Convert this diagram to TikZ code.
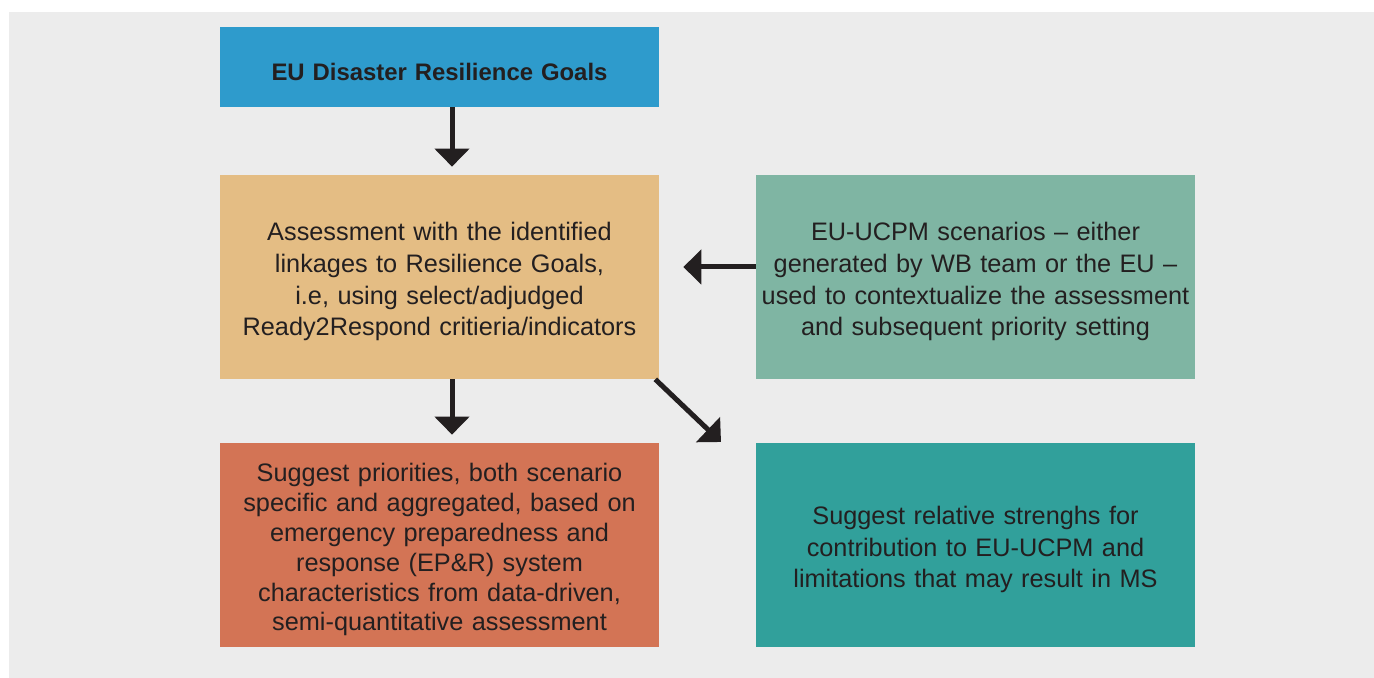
\documentclass[tikz,border=0pt]{standalone}
\usepackage{fontspec}
\setmainfont{Liberation Sans}
\usetikzlibrary{arrows.meta}
\definecolor{bggray}{HTML}{ECECEC}
\definecolor{goalblue}{HTML}{2E9BCC}
\definecolor{assesstan}{HTML}{E4BD84}
\definecolor{scensage}{HTML}{7FB5A3}
\definecolor{prioorange}{HTML}{D37455}
\definecolor{strengteal}{HTML}{31A09B}
\definecolor{inkdark}{HTML}{231F20}
\begin{document}
\begin{tikzpicture}[x=0.02cm, y=-0.02cm,
    font=\fontsize{14.4pt}{18pt}\selectfont,
    box/.style={minimum width=8.78cm, minimum height=4.08cm, inner sep=0pt,
      text width=8.6cm, align=center, text=inkdark,
      execute at begin node={\rule{0pt}{15.8pt}}},
    flow/.style={draw=inkdark, line width=0.1cm,
      -{Triangle[width=0.68cm, length=0.36cm]}, inkdark}]
    % Background
    \useasboundingbox (0,0) rectangle (1374,678);
    \fill[white] (0,0) rectangle (1374,678);
    \fill[bggray] (9,12) rectangle (1374,678);
    % Goals
    \node[box, fill=goalblue, minimum height=1.6cm, font=\fontsize{13.6pt}{18pt}\selectfont\bfseries,
      execute at begin node={}] (goals) at (439.5,67) {EU Disaster Resilience Goals};
    % Assessment
    \node[box, fill=assesstan] (assess) at (439.5,277) {Assessment with the identified\\
      linkages to Resilience Goals,\\ i.e, using select/adjudged\\ Ready2Respond critieria/indicators};
    % Scenarios
    \node[box, fill=scensage] (scen) at (975.5,277) {EU-UCPM scenarios -- either\\
      generated by WB team or the EU --\\ used to contextualize the assessment\\ and subsequent priority setting};
    % Priorities
    \node[box, fill=prioorange, font=\fontsize{14.4pt}{17pt}\selectfont] (prio) at (439.5,545) {Suggest priorities, both scenario\\
      specific and aggregated, based on\\ emergency preparedness and\\ response (EP\&R) system\\
      characteristics from data-driven,\\ semi-quantitative assessment};
    % Strengths
    \node[box, fill=strengteal] (streng) at (975.5,545) {Suggest relative strenghs for\\
      contribution to EU-UCPM and\\ limitations that may result in MS};
    % Arrows
    \draw[flow, shorten >=0.16cm] ([xshift=0.25cm]goals.south) -- ([xshift=0.25cm]assess.north);
    \draw[flow, shorten >=0.16cm] ([xshift=0.25cm]assess.south) -- ([xshift=0.25cm]prio.north);
    \draw[flow, shorten >=0.48cm] ([yshift=0.2cm]scen.west) -- ([yshift=0.2cm]assess.east);
    \coordinate (diagtip) at (721,442);
    \draw[flow] ([xshift=-0.08cm]assess.south east) -- (diagtip);
\end{tikzpicture}
\end{document}
